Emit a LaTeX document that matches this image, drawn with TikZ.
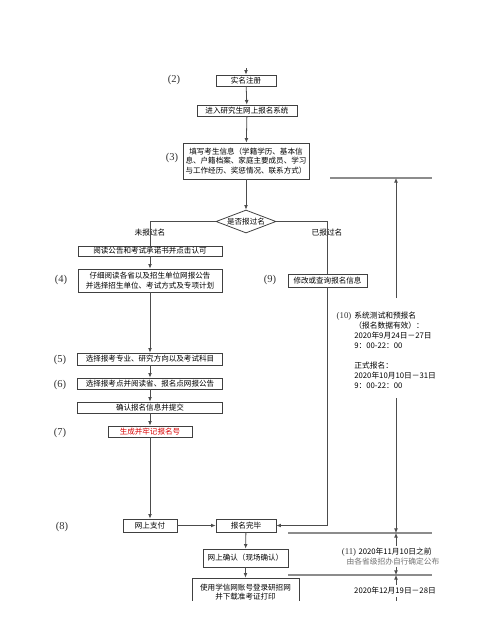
\documentclass[tikz,border=0pt]{standalone}
\usepackage{fontspec}
\setmainfont{Noto Sans CJK SC}
\newfontfamily\numfont{Liberation Serif}
\usetikzlibrary{arrows.meta,shapes.geometric}
\tikzset{
	stepbox/.style={draw=black!75, line width=0.45pt, inner sep=0pt, align=center, font=\fontsize{4.3}{5.3}\selectfont},
	arr/.style={draw=black!70, line width=0.45pt, -{Latex[length=2.6pt,width=2.2pt]}},
	ln/.style={draw=black!70, line width=0.45pt},
	tline/.style={draw=black!45, line width=1pt},
	numlbl/.style={inner sep=0pt, font=\numfont\fontsize{6}{6}\selectfont, text=black!80},
	txt/.style={inner sep=0pt, font=\fontsize{4.4}{5.67}\selectfont},
}

\begin{document}
\begin{tikzpicture}[x=0.02cm, y=-0.02cm]
			%%%%% START %%%%%
			\useasboundingbox (0,0) rectangle (500,643);
			\clip (0,0) rectangle (500,600);
			
			\coordinate (top) at (246,68);
			\node[stepbox, minimum width=1.2cm, minimum height=0.22cm] (reg) at (246,80.5) {实名注册};
			\node[stepbox, minimum width=2cm, minimum height=0.22cm] (sys) at (247,110.5) {进入研究生网上报名系统};
			\node[stepbox, minimum width=2.52cm, minimum height=0.72cm, font=\fontsize{4.3}{5.3}\selectfont] (info) at (246,161) {填写考生信息（学籍学历、基本信\\息、户籍档案、家庭主要成员、学习\\与工作经历、奖惩情况、联系方式）};
			\node[draw=black!75, line width=0.45pt, diamond, aspect=2.6, inner sep=0pt, minimum width=1.2cm, minimum height=0.46cm, font=\fontsize{4.3}{5.3}\selectfont] (ask) at (246,221.5) {是否报过名};
			
			\node[stepbox, minimum width=2.88cm, minimum height=0.2cm] (read) at (150,251) {阅读公告和考试承诺书并点击认可};
			\node[stepbox, minimum width=2.88cm, minimum height=0.46cm] (choose) at (150,280.5) {仔细阅读各省以及招生单位网报公告\\并选择招生单位、考试方式及专项计划};
			\node[stepbox, minimum width=2.9cm, minimum height=0.24cm] (major) at (150,359) {选择报考专业、研究方向以及考试科目};
			\node[stepbox, minimum width=2.9cm, minimum height=0.22cm] (site) at (150,383.5) {选择报考点并阅读省、报名点网报公告};
			\node[stepbox, minimum width=2.9cm, minimum height=0.22cm] (confirm) at (150,407.5) {确认报名信息并提交};
			\node[stepbox, minimum width=1.68cm, minimum height=0.22cm, text=red!85!black] (gen) at (150,431.5) {生成并牢记报名号};
			\node[stepbox, minimum width=1.08cm, minimum height=0.26cm] (pay) at (150,525.5) {网上支付};
			\node[stepbox, minimum width=1.2cm, minimum height=0.26cm] (done) at (246,525.5) {报名完毕};
			\node[stepbox, minimum width=1.7cm, minimum height=0.36cm] (onsite) at (245.5,558) {网上确认（现场确认）};
			\node[stepbox, minimum width=2.14cm, minimum height=0.56cm] (print) at (245.5,592) {使用学信网账号登录研招网\\并下载准考证打印};
			\node[stepbox, minimum width=1.58cm, minimum height=0.26cm] (modify) at (327.5,280.5) {修改或查询报名信息};
			
			\node[txt] (no) at (150,233) {未报过名};
			\node[txt] (yes) at (327,233) {已报过名};
			
			\draw[arr] (top) -- (reg);
			\draw[arr] (reg) -- (sys);
			\draw[arr] (sys) -- (info);
			\draw[arr] (info) -- (ask);
			\draw[ln] (ask.west) -| (read.north);
			\draw[ln] (ask.east) -| (modify.north);
			\draw[arr] (read) -- (choose);
			\draw[arr] (choose) -- (major);
			\draw[arr] (major) -- (site);
			\draw[arr] (site) -- (confirm);
			\draw[arr] (confirm) -- (gen);
			\draw[arr] (gen) -- (pay);
			\draw[arr] (pay) -- (done);
			\draw[arr] (modify.south) |- (done.east);
			\draw[arr] (done) -- (onsite);
			\draw[arr] (onsite) -- (print);
			
			\node[numlbl] (n2) at (174,80) {(2)};
			\node[numlbl] (n3) at (172,158) {(3)};
			\node[numlbl] (n4) at (61,280) {(4)};
			\node[numlbl] (n5) at (60,360) {(5)};
			\node[numlbl] (n6) at (60,385) {(6)};
			\node[numlbl] (n7) at (60,433) {(7)};
			\node[numlbl] (n8) at (62,527) {(8)};
			\node[numlbl] (n9) at (270,280) {(9)};
			
			% time line on the right
			\coordinate (h1l) at (330,178);
			\coordinate (h1r) at (432,178);
			\coordinate (h2l) at (288,533);
			\coordinate (h2r) at (432,533);
			\coordinate (h3l) at (288,575);
			\coordinate (h3r) at (432,575);
			\draw[tline] (h1l) -- (h1r);
			\draw[tline] (h2l) -- (h2r);
			\draw[tline] (h3l) -- (h3r);
			
			\node[txt, anchor=north west, align=left] (t10) at (354,312) {系统测试和预报名\\（报名数据有效）：\\2020年9月24日－27日\\9：00-22：00\\[5.67pt]正式报名：\\2020年10月10日－31日\\9：00-22：00};
			\node[numlbl, font=\numfont\fontsize{5}{5}\selectfont] (n10) at (344,316) {(10)};
			\node[txt] (t11) at (395,552) {2020年11月10日之前};
			\node[numlbl, font=\numfont\fontsize{5}{5}\selectfont] (n11) at (349,552) {(11)};
			\node[txt, text=black!55] (t11b) at (393,561.5) {由各省级招办自行确定公布};
			\node[txt] (t12) at (395,591) {2020年12月19日－28日};
			
			\coordinate (a10) at (396,298);
			\coordinate (b10) at (396,398);
			\coordinate (a11) at (396,546);
			\coordinate (b11) at (396,567);
			\coordinate (a12) at (396,585);
			\coordinate (b12) at (396,597);
			\draw[arr] (a10) -- (h1l -| a10);
			\draw[arr] (b10) -- (h2l -| b10);
			\draw[arr] (a11) -- (h2l -| a11);
			\draw[arr] (b11) -- (h3l -| b11);
			\draw[arr] (a12) -- (h3l -| a12);
			\draw[ln] (b12) -- ++(0,4);
			
			%%%%% END %%%%%
		\end{tikzpicture}
\end{document}
